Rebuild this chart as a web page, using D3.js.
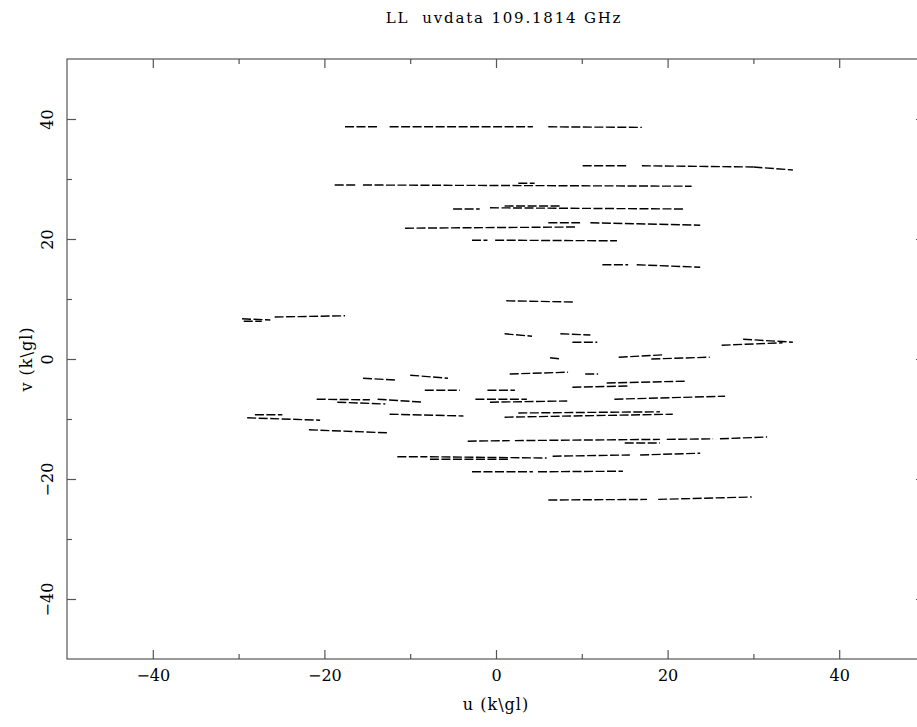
<!DOCTYPE html>
<html>
<head>
<meta charset="utf-8">
<script src="https://cdn.jsdelivr.net/npm/d3@7"></script>
<style>
  body { margin: 0; background: #fff; }
  svg text { font-family: "DejaVu Serif", serif; fill: #000; white-space: pre; }
</style>
</head>
<body>
<svg id="chart" width="917" height="727"></svg>
<script>
// uv tracks, each piece: [u0, u1, v0, v1] in k-lambda
var northTracks = [
  [-17.6, -13.8, 38.7, 38.7], [-12.4, 4.3, 38.7, 38.7], [6.1, 17.0, 38.7, 38.6],
  [10.1, 15.3, 32.2, 32.2], [17.0, 30.0, 32.2, 32.0], [30.0, 34.6, 32.0, 31.5],
  [-18.8, -16.2, 29.0, 29.0], [-15.5, 22.8, 29.0, 28.8], [2.6, 4.5, 29.3, 29.3],
  [-5.0, -1.9, 25.0, 25.0], [-0.7, 22.0, 25.2, 25.0], [1.0, 7.5, 25.5, 25.5],
  [-10.6, 9.4, 21.8, 22.0],
  [6.1, 9.8, 22.7, 22.7], [11.0, 23.8, 22.7, 22.3],
  [-2.8, -1.0, 19.8, 19.8], [-0.1, 14.1, 19.8, 19.7],
  [12.4, 15.4, 15.7, 15.7], [16.4, 23.8, 15.7, 15.3],
  [1.2, 9.0, 9.7, 9.5]
];

var centralTracks = [
  [-29.6, -26.3, 6.7, 6.5], [-25.8, -17.6, 7.0, 7.2], [-29.4, -27.3, 6.3, 6.3],
  [1.0, 4.2, 4.2, 3.8], [7.5, 11.0, 4.2, 4.0], [8.9, 11.8, 2.8, 2.8],
  [28.8, 34.6, 3.3, 2.8], [26.3, 33.4, 2.3, 2.7],
  [6.3, 7.6, 0.2, 0.0], [14.3, 19.6, 0.3, 0.7], [18.1, 24.9, 0.0, 0.3],
  [1.6, 8.4, -2.5, -2.2], [10.4, 11.9, -2.5, -2.5],
  [8.9, 15.6, -4.7, -4.5], [12.9, 22.0, -4.0, -3.7],
  [13.8, 26.7, -6.7, -6.2], [-2.4, 3.6, -6.7, -6.7], [-0.7, 8.3, -7.2, -7.0],
  [1.0, 20.6, -9.7, -9.2], [2.6, 19.1, -9.0, -8.8],
  [-15.5, -11.7, -3.2, -3.5], [-10.0, -5.6, -2.7, -3.2],
  [-8.3, -4.2, -5.2, -5.2], [-1.0, 2.2, -5.2, -5.2],
  [-20.9, -14.7, -6.7, -6.8], [-18.5, -12.9, -7.2, -7.5],
  [-13.8, -8.5, -6.7, -7.2], [-12.4, -3.8, -9.2, -9.5],
  [-29.0, -20.5, -9.8, -10.2], [-28.1, -24.9, -9.3, -9.3],
  [-21.8, -12.7, -11.8, -12.3]
];

var southTracks = [
  [-3.3, 1.6, -13.7, -13.6], [2.2, 19.1, -13.6, -13.4], [19.9, 25.3, -13.4, -13.3], [26.1, 31.6, -13.3, -13.0],
  [15.0, 19.1, -14.0, -14.0],
  [-11.5, -8.0, -16.3, -16.3], [-7.7, 5.9, -16.3, -16.5], [6.6, 15.6, -16.2, -16.0], [16.8, 23.8, -16.0, -15.7],
  [-7.7, 1.6, -16.7, -16.7],
  [-2.8, 4.3, -18.8, -18.8], [4.9, 14.8, -18.8, -18.7],
  [6.1, 17.6, -23.5, -23.4], [18.9, 29.8, -23.4, -23.0]
];

var majorTicks = [-40, -20, 0, 20, 40];
var minorTicks = [-30, -10, 10, 30];
var titleText = "LL  uvdata 109.1814 GHz";
var xLabel = "u (k\\gl)";
var yLabel = "v (k\\gl)";

var svg = d3.select("#chart");

var x = d3.scaleLinear().domain([-50, 50]).range([67, 925]);
var y = d3.scaleLinear().domain([-50, 50]).range([659, 59]);

var frameColor = "#555";

// frame
svg.append("rect")
    .attr("x", x(-50)).attr("y", y(50))
    .attr("width", x(50) - x(-50)).attr("height", y(-50) - y(50))
    .attr("fill", "none").attr("stroke", frameColor).attr("stroke-width", 1.2);

function styleAxis(g) {
  g.select(".domain").remove();
  g.selectAll("line").attr("stroke", frameColor).attr("stroke-width", 1.2);
  g.selectAll("text").style("font-size", "16px").attr("fill", "#000");
}

var fmt = function(d) { return d < 0 ? "\u2212" + Math.abs(d) : String(d); };

// bottom
svg.append("g").attr("transform", "translate(0," + y(-50) + ")")
    .call(d3.axisBottom(x).tickValues(majorTicks).tickSize(-9).tickPadding(11).tickFormat(fmt))
    .call(styleAxis);
svg.append("g").attr("transform", "translate(0," + y(-50) + ")")
    .call(d3.axisBottom(x).tickValues(minorTicks).tickSize(-5).tickFormat(""))
    .call(styleAxis);
// top
svg.append("g").attr("transform", "translate(0," + y(50) + ")")
    .call(d3.axisTop(x).tickValues(majorTicks).tickSize(-9).tickFormat(""))
    .call(styleAxis);
svg.append("g").attr("transform", "translate(0," + y(50) + ")")
    .call(d3.axisTop(x).tickValues(minorTicks).tickSize(-5).tickFormat(""))
    .call(styleAxis);
// left
var yAx = svg.append("g").attr("transform", "translate(" + x(-50) + ",0)")
    .call(d3.axisLeft(y).tickValues(majorTicks).tickSize(-9).tickFormat(fmt))
    .call(styleAxis);
yAx.selectAll("text")
    .attr("transform", "rotate(-90)")
    .attr("x", 0).attr("y", -14).attr("dy", 0)
    .attr("text-anchor", "middle");
svg.append("g").attr("transform", "translate(" + x(-50) + ",0)")
    .call(d3.axisLeft(y).tickValues(minorTicks).tickSize(-5).tickFormat(""))
    .call(styleAxis);
// right
svg.append("g").attr("transform", "translate(" + x(50) + ",0)")
    .call(d3.axisRight(y).tickValues(majorTicks).tickSize(-9).tickFormat(""))
    .call(styleAxis);

// titles
svg.append("text")
    .attr("x", 504).attr("y", 23)
    .attr("text-anchor", "middle")
    .style("font-size", "15px")
    .style("letter-spacing", "1.8px")
    .text(titleText);

svg.append("text")
    .attr("x", x(0)).attr("y", 710)
    .attr("text-anchor", "middle")
    .style("font-size", "16px")
    .style("letter-spacing", "1px")
    .text(xLabel);

svg.append("text")
    .attr("transform", "translate(32," + y(0) + ") rotate(-90)")
    .attr("text-anchor", "middle")
    .style("font-size", "16px")
    .style("letter-spacing", "1px")
    .text(yLabel);

// tracks
var line = d3.line()
    .x(function(d) { return x(d[0]); })
    .y(function(d) { return y(d[1]); });

var allTracks = northTracks.concat(centralTracks, southTracks);

svg.append("g")
  .selectAll("path")
  .data(allTracks)
  .join("path")
    .attr("d", function(t) { return line([[t[0], t[2]], [t[1], t[3]]]); })
    .attr("fill", "none")
    .attr("stroke", "#000")
    .attr("stroke-width", 1.4)
    .attr("stroke-dasharray", "9,2.5");
</script>
</body>
</html>
